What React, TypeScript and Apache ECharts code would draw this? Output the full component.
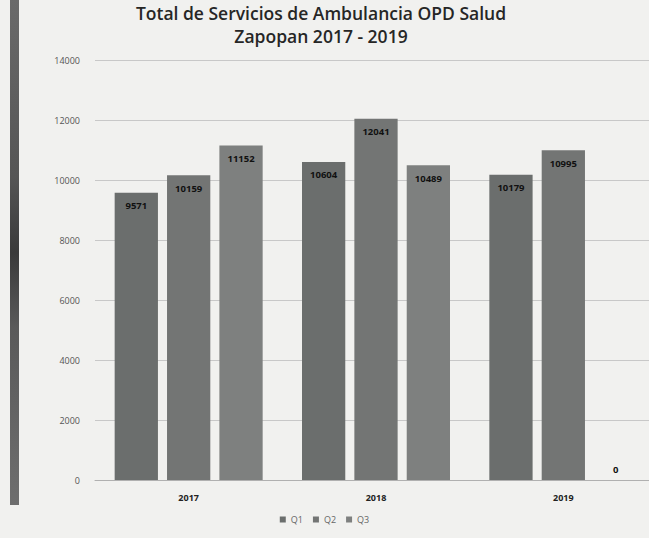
import React, { useEffect, useRef } from "react";
import * as echarts from "echarts";

const titleLines = ["Total de Servicios de Ambulancia OPD Salud", "Zapopan 2017 - 2019"];
const years = ["2017", "2018", "2019"];
const seriesNames = ["Q1", "Q2", "Q3"];
const q1 = [9571, 10604, 10179];
const q2 = [10159, 12041, 10995];
const q3 = [11152, 10489, 0];
const yTicks = { min: 0, max: 14000, interval: 2000 };

const colors = ["#6b6e6d", "#737574", "#7e807f"];

export default function App() {
  const ref = useRef<HTMLDivElement>(null);
  useEffect(() => {
    if (!ref.current) return;
    const chart = echarts.init(ref.current, undefined, { renderer: "svg" });
    const values = [q1, q2, q3];
    const font = "'Open Sans', 'Liberation Sans', sans-serif";
    chart.setOption({
      animation: false,
      backgroundColor: "#f1f1ef",
      textStyle: { fontFamily: font },
      title: {
        text: titleLines.join("\n"),
        left: 316,
        textAlign: "center",
        top: -4,
        textStyle: {
          fontSize: 17.5,
          fontWeight: 600,
          color: "#262626",
          lineHeight: 23,
          fontFamily: font,
        },
      },
      graphic: [
        {
          type: "rect",
          shape: { x: 10, y: 0, width: 9, height: 505 },
          style: {
            fill: new echarts.graphic.LinearGradient(0, 0, 0, 1, [
              { offset: 0, color: "#6a6a6a" },
              { offset: 0.35, color: "#555" },
              { offset: 0.5, color: "#3a3a3a" },
              { offset: 0.65, color: "#5a5a5a" },
              { offset: 1, color: "#6e6e6e" },
            ]),
          },
          silent: true,
        },
      ],
      legend: {
        bottom: 9,
        left: "center",
        itemWidth: 6,
        itemHeight: 6,
        itemGap: 10,
        icon: "rect",
        textStyle: { fontSize: 9, color: "#666", fontFamily: font },
        data: seriesNames,
      },
      grid: {
        left: 95,
        width: 562,
        top: 60,
        bottom: 58,
        outerBoundsMode: "none",
        containLabel: false,
      },
      xAxis: {
        type: "category",
        data: years,
        axisLine: { lineStyle: { color: "#b0b0b0" } },
        axisTick: { show: false },
        axisLabel: { fontSize: 9, fontWeight: "bold", color: "#222", margin: 13 },
      },
      yAxis: {
        type: "value",
        min: yTicks.min,
        max: yTicks.max,
        interval: yTicks.interval,
        axisLine: { show: false },
        axisTick: { show: false },
        axisLabel: {
          fontSize: 9,
          color: "#555",
          margin: 15,
          formatter: (v: number) => String(v),
        },
        splitLine: { lineStyle: { color: "#c8c8c8" } },
      },
      series: seriesNames.map((name, i) => ({
        name,
        type: "bar",
        barCategoryGap: "21%",
        barGap: "21%",
        itemStyle: { color: colors[i] },
        label: {
          show: true,
          position: "insideTop",
          distance: 8,
          fontSize: 9.5,
          fontWeight: "bold",
          color: "#111",
        },
        data: values[i].map((v) =>
          v === 0 ? { value: v, label: { position: "top", distance: 6 } } : v
        ),
      })),
    });
    return () => chart.dispose();
  }, []);
  return (
    <div
      ref={ref}
      style={{ position: "absolute", left: 0, top: 0, width: 649, height: 538 }}
    />
  );
}
